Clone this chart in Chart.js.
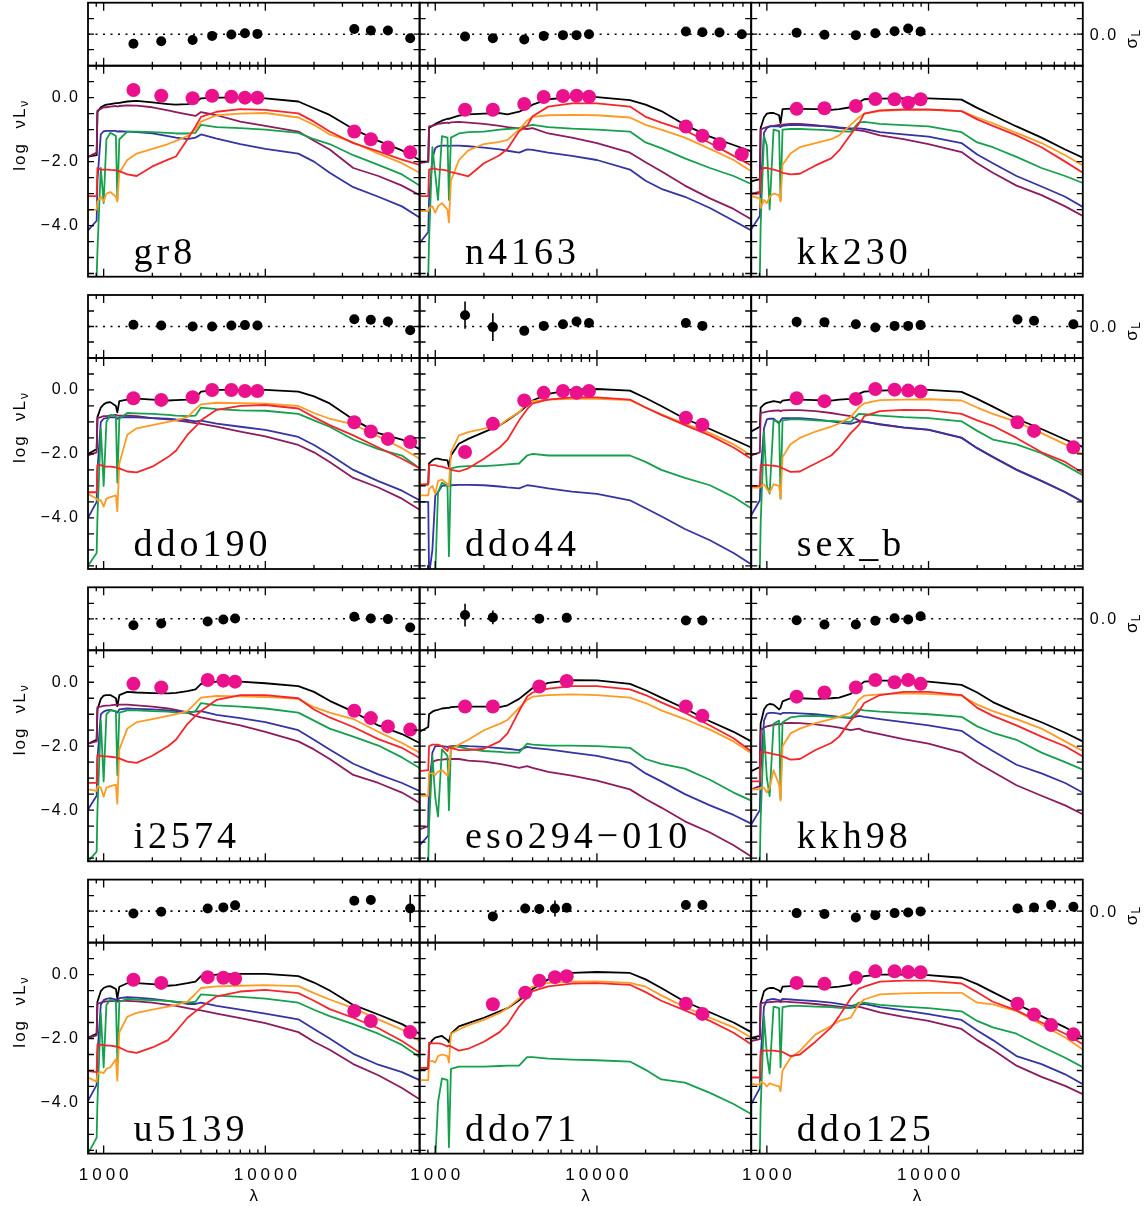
<!DOCTYPE html>
<html>
<head>
<meta charset="utf-8">
<script src="https://cdn.jsdelivr.net/npm/chart.js@4.4.1/dist/chart.umd.min.js"></script>
<style>
html, body { margin: 0; padding: 0; background: #fff; overflow: hidden; width: 1148px; height: 1206px; }
canvas { position: absolute; }
</style>
</head>
<body>
<script>
// model wavelength grid (Angstrom)
const lam = [800, 905, 915, 960, 1000, 1040, 1100, 1190, 1215, 1250,
             1400, 1600, 2000, 2500, 2800, 3300, 3700, 4000, 5000, 7000,
             10000, 16000, 20000, 25000, 35000, 50000, 70000, 90000];

// filter wavelengths
const FUV = 1528, NUV = 2271;
const u_ = 3551, g_ = 4686, r_ = 6165, i_ = 7481, z_ = 8931;
const U_ = 3600, B_ = 4400, V_ = 5500, R_ = 6500;
const I1 = 35500, I2 = 44930, I3 = 57310, I4 = 78720;

// ---- gr8
const gr8_band = [FUV, NUV, u_, g_, r_, i_, z_, I1, I2, I3, I4];
const gr8_obs = [0.24, 0.06, -0.02, 0.06, 0.03, 0.0, 0.0, -1.06, -1.30, -1.56, -1.71];
const gr8_res = [-0.62, -0.45, -0.37, -0.11, -0.02, 0.06, 0.02, 0.34, 0.24, 0.24, -0.26];
const gr8_black = [-1.84,-1.80,-0.45,-0.30,-0.25,-0.22,-0.20,-0.17,-0.17,-0.16, -0.12,-0.10,-0.15,-0.20,-0.22,-0.20,-0.15,-0.02,0.00,0.00, -0.02,-0.12,-0.33,-0.54,-0.98,-1.35,-1.65,-1.95];
const gr8_purple = [-1.85,-1.72,-0.40,-0.35,-0.30,-0.30,-0.28,-0.26,-0.28,-0.26, -0.24,-0.25,-0.30,-0.40,-0.45,-0.52,-0.57,-0.45,-0.55,-0.75, -0.88,-1.06,-1.35,-1.62,-2.20,-2.45,-2.75,-3.05];
const gr8_blue = [-4.15,-3.85,-2.60,-1.15,-1.05,-1.04,-1.04,-1.04,-1.06,-1.05, -1.06,-1.08,-1.12,-1.20,-1.25,-1.30,-1.25,-1.15,-1.28,-1.45, -1.60,-1.75,-2.00,-2.35,-2.80,-3.10,-3.40,-3.75];
const gr8_green = [-6.00,-5.60,-4.80,-2.20,-3.30,-1.30,-1.10,-1.20,-3.20,-1.30, -1.06,-1.06,-1.08,-1.10,-1.12,-1.12,-1.10,-0.85,-0.92,-0.95, -1.00,-1.10,-1.30,-1.45,-1.80,-2.10,-2.40,-2.75];
const gr8_orange = [-3.52,-3.50,-3.25,-3.10,-3.25,-3.00,-2.95,-3.10,-3.25,-2.35, -1.95,-1.75,-1.60,-1.45,-1.35,-1.20,-1.00,-0.75,-0.55,-0.50, -0.48,-0.62,-0.85,-1.15,-1.40,-1.75,-2.05,-2.35];
const gr8_red = [-3.08,-3.08,-2.20,-2.25,-2.25,-2.25,-2.26,-2.27,-2.28,-2.30, -2.40,-2.45,-2.15,-1.94,-1.84,-1.30,-0.90,-0.60,-0.44,-0.36, -0.38,-0.49,-0.75,-1.06,-1.42,-1.68,-1.94,-2.10];

// ---- n4163
const n4163_band = [FUV, NUV, u_, g_, r_, i_, z_, I1, I2, I3, I4];
const n4163_obs = [-0.38, -0.38, -0.20, 0.02, 0.05, 0.06, 0.03, -0.90, -1.19, -1.45, -1.77];
const n4163_res = [-0.15, -0.26, -0.34, -0.11, -0.06, -0.06, 0.0, 0.17, 0.13, 0.11, 0.0];
const n4163_black = [-2.00,-2.00,-0.95,-0.88,-0.82,-0.78,-0.72,-0.66,-0.66,-0.64, -0.56,-0.52,-0.50,-0.48,-0.52,-0.44,-0.32,-0.22,-0.05,0.02, 0.02,-0.08,-0.22,-0.42,-0.85,-1.22,-1.48,-1.68];
const n4163_purple = [-2.05,-2.00,-0.90,-0.88,-0.85,-0.82,-0.80,-0.78,-0.80,-0.77, -0.76,-0.78,-0.82,-0.88,-0.92,-0.96,-0.98,-0.95,-1.12,-1.25, -1.42,-1.72,-2.02,-2.30,-2.75,-3.15,-3.48,-3.80];
const n4163_blue = [-4.55,-4.20,-3.20,-1.90,-1.58,-1.52,-1.50,-1.50,-1.52,-1.50, -1.50,-1.52,-1.56,-1.62,-1.66,-1.72,-1.62,-1.63,-1.72,-1.82, -1.95,-2.25,-2.60,-2.85,-3.10,-3.45,-3.85,-4.15];
const n4163_green = [-6.00,-5.60,-4.50,-1.55,-2.40,-3.20,-1.20,-1.25,-3.20,-1.25, -1.12,-1.08,-1.06,-1.00,-0.98,-0.95,-0.88,-0.85,-0.92,-0.97, -1.00,-1.06,-1.40,-1.58,-1.90,-2.20,-2.45,-2.70];
const n4163_orange = [-3.55,-3.55,-3.45,-3.40,-3.60,-3.40,-3.30,-3.50,-3.90,-2.60, -1.95,-1.65,-1.45,-1.38,-1.32,-1.00,-0.72,-0.60,-0.55,-0.54, -0.55,-0.62,-0.85,-1.00,-1.25,-1.60,-1.95,-2.30];
const n4163_red = [-3.08,-3.08,-2.25,-2.22,-2.22,-2.25,-2.25,-2.28,-2.32,-2.33, -2.38,-2.46,-2.05,-1.80,-1.60,-1.05,-0.88,-0.58,-0.28,-0.18, -0.18,-0.28,-0.60,-0.78,-1.02,-1.42,-1.82,-2.12];

// ---- kk230
const kk230_band = [FUV, NUV, u_, g_, r_, i_, z_];
const kk230_obs = [-0.35, -0.33, -0.26, -0.04, -0.05, -0.16, -0.05];
const kk230_res = [0.09, -0.04, -0.06, 0.06, 0.19, 0.37, 0.17];
const kk230_black = [-2.62,-2.55,-0.95,-0.62,-0.50,-0.48,-0.48,-0.55,-0.80,-0.36, -0.34,-0.35,-0.36,-0.38,-0.36,-0.30,-0.15,-0.05,-0.03,-0.02, -0.02,-0.06,-0.32,-0.55,-0.90,-1.25,-1.62,-1.88];
const kk230_purple = [-3.00,-2.95,-1.00,-0.95,-0.92,-0.90,-0.88,-0.85,-0.88,-0.84, -0.82,-0.82,-0.86,-0.92,-0.95,-0.98,-1.02,-1.05,-1.18,-1.30, -1.45,-1.70,-2.05,-2.35,-2.75,-3.05,-3.40,-3.70];
const kk230_blue = [-4.12,-3.70,-2.90,-1.10,-0.95,-0.90,-0.90,-0.90,-0.92,-0.88, -0.85,-0.86,-0.88,-0.90,-0.93,-0.96,-0.96,-0.98,-1.08,-1.15, -1.22,-1.42,-1.78,-2.05,-2.45,-2.78,-3.10,-3.42];
const kk230_green = [-6.00,-5.60,-4.00,-1.20,-1.50,-3.50,-1.00,-1.05,-3.20,-1.00, -0.98,-0.98,-1.00,-1.02,-1.05,-1.06,-0.78,-0.76,-0.82,-0.86, -0.90,-1.08,-1.40,-1.55,-1.85,-2.20,-2.45,-2.67];
const kk230_orange = [-3.08,-3.15,-3.45,-3.20,-3.30,-3.10,-3.00,-3.05,-3.25,-2.10, -1.75,-1.55,-1.42,-1.30,-1.18,-0.85,-0.62,-0.50,-0.42,-0.38, -0.38,-0.42,-0.62,-0.80,-1.10,-1.42,-1.80,-2.12];
const kk230_red = [-3.00,-3.00,-2.30,-2.20,-2.20,-2.22,-2.25,-2.30,-2.32,-2.35, -2.40,-2.38,-2.12,-1.90,-1.65,-1.15,-0.82,-0.50,-0.40,-0.37, -0.37,-0.42,-0.68,-0.88,-1.18,-1.55,-2.00,-2.35];

// ---- ddo190
const ddo190_band = [FUV, NUV, u_, g_, r_, i_, z_, I1, I2, I3, I4];
const ddo190_obs = [-0.26, -0.31, -0.23, 0.0, 0.0, -0.03, -0.03, -1.01, -1.30, -1.53, -1.63];
const ddo190_res = [0.11, 0.06, 0.0, 0.0, 0.06, 0.09, 0.06, 0.47, 0.43, 0.32, -0.24];
const ddo190_black = [-2.00,-1.85,-0.85,-0.55,-0.45,-0.40,-0.38,-0.50,-0.70,-0.35, -0.30,-0.27,-0.30,-0.33,-0.32,-0.30,-0.25,-0.05,0.00,0.00, 0.00,-0.05,-0.20,-0.42,-0.92,-1.35,-1.55,-1.85];
const ddo190_purple = [-2.05,-1.95,-0.88,-0.85,-0.82,-0.82,-0.80,-0.78,-0.80,-0.80, -0.80,-0.82,-0.88,-0.92,-0.95,-1.00,-1.04,-1.06,-1.15,-1.30, -1.45,-1.72,-1.95,-2.25,-2.75,-3.05,-3.40,-3.75];
const ddo190_blue = [-4.00,-3.50,-2.50,-1.00,-0.90,-0.88,-0.86,-0.86,-0.90,-0.86, -0.85,-0.86,-0.88,-0.90,-0.92,-0.94,-0.98,-0.96,-1.05,-1.15, -1.25,-1.47,-1.72,-2.02,-2.50,-2.85,-3.15,-3.45];
const ddo190_green = [-5.50,-5.10,-4.00,-1.20,-3.00,-1.00,-0.78,-0.82,-2.90,-0.90, -0.72,-0.73,-0.75,-0.78,-0.80,-0.82,-0.80,-0.55,-0.60,-0.64, -0.65,-0.75,-0.95,-1.15,-1.55,-1.85,-2.05,-2.45];
const ddo190_orange = [-3.25,-3.40,-3.45,-3.45,-3.65,-3.40,-3.35,-3.30,-3.80,-2.30, -1.40,-1.20,-1.10,-1.00,-0.95,-0.85,-0.60,-0.45,-0.40,-0.41, -0.43,-0.50,-0.72,-0.90,-1.08,-1.45,-1.82,-2.15];
const ddo190_red = [-3.20,-3.20,-2.35,-2.35,-2.38,-2.40,-2.40,-2.42,-2.45,-2.45, -2.55,-2.58,-2.40,-2.10,-1.90,-1.40,-1.15,-0.95,-0.62,-0.50, -0.47,-0.58,-0.85,-1.10,-1.42,-1.80,-2.15,-2.45];

// ---- ddo44
const ddo44_band = [FUV, NUV, u_, g_, r_, i_, z_, I1, I2];
const ddo44_obs = [-1.94, -1.06, -0.33, -0.09, -0.03, -0.09, -0.03, -0.87, -1.09];
const ddo44_res = [0.73, -0.04, -0.28, 0.04, 0.15, 0.32, 0.22, 0.22, 0.04];
const ddo44_err = [0.88, 0.90, 0, 0, 0, 0, 0, 0, 0];
const ddo44_black = [-2.98,-2.95,-2.30,-2.20,-2.15,-2.15,-2.18,-2.20,-2.40,-2.05, -1.68,-1.53,-1.32,-1.11,-0.95,-0.70,-0.49,-0.33,-0.12,0.01, 0.03,-0.02,-0.25,-0.50,-0.90,-1.22,-1.55,-1.80];
const ddo44_blue = [-3.50,-3.50,-5.80,-5.00,-3.30,-3.20,-3.00,-2.98,-3.00,-2.98, -2.97,-2.97,-2.98,-3.02,-3.05,-3.08,-2.98,-3.00,-3.08,-3.18, -3.25,-3.45,-3.70,-3.95,-4.35,-4.70,-5.10,-5.45];
const ddo44_green = [-6.00,-6.00,-5.80,-5.80,-5.80,-3.20,-2.90,-3.00,-5.20,-2.45, -2.40,-2.38,-2.38,-2.35,-2.33,-2.30,-2.05,-2.00,-2.05,-2.05, -2.05,-2.05,-2.25,-2.50,-2.75,-2.98,-3.35,-3.70];
const ddo44_orange = [-3.30,-3.30,-3.10,-3.00,-3.25,-2.85,-2.80,-2.95,-3.00,-1.95, -1.42,-1.32,-1.21,-1.11,-0.92,-0.70,-0.40,-0.35,-0.30,-0.28, -0.28,-0.32,-0.55,-0.76,-1.05,-1.35,-1.70,-2.05];
const ddo44_red = [-2.95,-2.95,-2.35,-2.35,-2.35,-2.38,-2.40,-2.45,-2.45,-2.50, -2.55,-2.45,-2.15,-1.80,-1.55,-0.95,-0.60,-0.42,-0.30,-0.23, -0.23,-0.30,-0.55,-0.78,-1.10,-1.42,-1.80,-2.15];

// ---- sex_b
const sexb_band = [FUV, NUV, u_, g_, r_, i_, z_, I1, I2, I4];
const sexb_obs = [-0.26, -0.35, -0.28, 0.03, 0.01, -0.02, -0.05, -1.01, -1.28, -1.79];
const sexb_res = [0.30, 0.28, 0.15, -0.06, 0.04, 0.04, 0.09, 0.45, 0.37, 0.15];
const sexb_black = [-1.30,-1.15,-0.55,-0.45,-0.40,-0.38,-0.35,-0.38,-0.40,-0.33, -0.30,-0.30,-0.32,-0.33,-0.30,-0.28,-0.12,-0.05,-0.02,0.00, 0.00,-0.06,-0.28,-0.52,-0.90,-1.22,-1.55,-1.78];
const sexb_purple = [-2.05,-1.95,-0.72,-0.70,-0.68,-0.66,-0.65,-0.64,-0.66,-0.64, -0.63,-0.63,-0.66,-0.72,-0.76,-0.82,-0.95,-0.98,-1.08,-1.18, -1.25,-1.50,-1.82,-2.10,-2.50,-2.85,-3.20,-3.50];
const sexb_blue = [-3.92,-3.45,-2.60,-1.20,-0.92,-0.90,-0.90,-1.05,-0.95,-0.88, -0.88,-0.88,-0.92,-0.98,-1.02,-1.06,-0.98,-1.00,-1.07,-1.17, -1.24,-1.49,-1.82,-2.09,-2.49,-2.84,-3.19,-3.49];
const sexb_green = [-6.00,-5.60,-4.20,-1.30,-3.00,-3.24,-0.95,-1.00,-3.40,-0.95, -0.92,-0.92,-0.95,-0.97,-0.98,-1.00,-0.75,-0.76,-0.80,-0.85, -0.88,-0.98,-1.28,-1.55,-1.70,-1.98,-2.35,-2.67];
const sexb_orange = [-3.05,-3.05,-3.00,-2.95,-3.10,-3.20,-2.95,-3.00,-3.40,-2.10, -1.70,-1.50,-1.30,-1.15,-1.05,-0.85,-0.55,-0.42,-0.32,-0.30, -0.29,-0.33,-0.55,-0.75,-1.00,-1.35,-1.70,-2.02];
const sexb_red = [-3.00,-3.00,-2.36,-2.35,-2.35,-2.36,-2.37,-2.40,-2.42,-2.45, -2.56,-2.55,-2.30,-2.05,-1.80,-1.35,-1.10,-0.82,-0.66,-0.62, -0.63,-0.75,-0.95,-1.12,-1.50,-1.95,-2.25,-2.60];

// ---- i2574
const i2574_band = [FUV, NUV, B_, V_, R_, I1, I2, I3, I4];
const i2574_obs = [-0.05, -0.16, 0.07, 0.05, 0.02, -0.89, -1.12, -1.38, -1.48];
const i2574_res = [-0.41, -0.30, -0.17, -0.04, 0.02, 0.13, 0.02, -0.02, -0.56];
const i2574_black = [-1.92,-1.80,-0.85,-0.52,-0.42,-0.40,-0.40,-0.50,-0.75,-0.40, -0.30,-0.32,-0.34,-0.35,-0.33,-0.28,-0.22,-0.05,0.02,0.02, -0.03,-0.12,-0.30,-0.58,-0.92,-1.35,-1.62,-1.90];
const i2574_purple = [-1.92,-1.85,-0.78,-0.76,-0.74,-0.73,-0.72,-0.70,-0.72,-0.70, -0.70,-0.72,-0.76,-0.82,-0.86,-0.95,-1.05,-1.10,-1.20,-1.35, -1.55,-1.85,-2.10,-2.40,-2.90,-3.15,-3.45,-3.77];
const i2574_blue = [-3.98,-3.55,-2.40,-1.00,-0.92,-0.88,-0.86,-0.92,-0.95,-0.85, -0.82,-0.83,-0.85,-0.88,-0.90,-0.93,-0.92,-0.90,-1.02,-1.12, -1.25,-1.50,-1.80,-2.10,-2.55,-2.88,-3.15,-3.40];
const i2574_green = [-5.60,-5.30,-4.00,-1.20,-3.10,-1.00,-0.88,-0.90,-2.90,-0.95, -0.88,-0.88,-0.90,-0.92,-0.95,-0.96,-0.90,-0.65,-0.72,-0.76, -0.82,-0.95,-1.20,-1.45,-1.70,-1.98,-2.35,-2.68];
const i2574_orange = [-3.35,-3.40,-3.25,-3.30,-3.58,-3.30,-3.25,-3.20,-3.80,-2.10, -1.45,-1.25,-1.15,-1.05,-1.00,-0.90,-0.65,-0.48,-0.43,-0.44, -0.46,-0.52,-0.78,-0.95,-1.15,-1.55,-1.90,-2.20];
const i2574_red = [-3.15,-3.15,-2.28,-2.30,-2.32,-2.32,-2.33,-2.35,-2.38,-2.38, -2.48,-2.52,-2.30,-2.00,-1.80,-1.30,-1.05,-0.90,-0.55,-0.40, -0.40,-0.50,-0.85,-1.10,-1.40,-1.78,-2.05,-2.37];

// ---- eso294-010
const eso294_band = [FUV, NUV, B_, R_, I1, I2];
const eso294_obs = [-0.76, -0.76, -0.13, 0.04, -0.76, -1.05];
const eso294_res = [0.24, 0.09, 0.0, 0.06, -0.11, -0.11];
const eso294_err = [0.73, 0.44, 0, 0, 0, 0];
const eso294_black = [-1.55,-1.40,-1.00,-0.92,-0.88,-0.86,-0.82,-0.80,-0.80,-0.78, -0.76,-0.76,-0.76,-0.78,-0.72,-0.52,-0.32,-0.18,-0.02,0.07, 0.06,-0.05,-0.25,-0.48,-0.82,-1.22,-1.55,-1.85];
const eso294_purple = [-4.60,-4.50,-3.00,-2.50,-2.45,-2.43,-2.42,-2.40,-2.42,-2.40, -2.40,-2.45,-2.48,-2.55,-2.60,-2.68,-2.62,-2.68,-2.80,-2.92, -3.08,-3.35,-3.65,-3.92,-4.35,-4.70,-5.10,-5.45];
const eso294_blue = [-5.10,-4.80,-3.50,-2.20,-2.00,-2.00,-2.00,-2.02,-2.05,-2.00, -1.98,-2.00,-2.02,-2.06,-2.08,-2.12,-2.02,-2.05,-2.10,-2.20, -2.30,-2.52,-2.85,-3.10,-3.50,-3.85,-4.15,-4.42];
const eso294_green = [-6.00,-5.60,-4.50,-2.30,-3.60,-4.20,-2.10,-2.30,-4.00,-2.00, -2.02,-2.08,-2.15,-2.18,-2.20,-2.20,-1.92,-1.95,-1.98,-1.98, -2.00,-2.05,-2.40,-2.55,-2.70,-3.05,-3.45,-3.70];
const eso294_orange = [-3.55,-3.55,-2.85,-2.85,-2.90,-2.80,-2.75,-2.92,-2.65,-2.10, -1.95,-1.80,-1.50,-1.30,-1.18,-0.80,-0.55,-0.45,-0.40,-0.38, -0.40,-0.48,-0.65,-0.88,-1.15,-1.48,-1.85,-2.21];
const eso294_red = [-2.78,-2.75,-2.00,-1.95,-1.95,-1.95,-2.00,-2.15,-2.00,-2.05, -2.12,-2.12,-2.08,-1.85,-1.60,-0.90,-0.45,-0.32,-0.20,-0.12, -0.12,-0.22,-0.40,-0.63,-0.95,-1.35,-1.75,-2.16];

// ---- kkh98
const kkh98_band = [FUV, NUV, u_, g_, r_, i_, z_];
const kkh98_obs = [-0.45, -0.32, -0.16, 0.07, 0.0, 0.07, -0.05];
const kkh98_res = [-0.09, -0.37, -0.37, -0.13, 0.04, -0.04, 0.17];
const kkh98_black = [-2.78,-2.65,-1.30,-0.85,-0.72,-0.68,-0.70,-0.85,-0.80,-0.60, -0.50,-0.50,-0.52,-0.50,-0.48,-0.36,-0.12,0.02,0.05,0.05, 0.02,-0.08,-0.32,-0.62,-0.95,-1.25,-1.58,-1.85];
const kkh98_purple = [-3.35,-3.25,-1.50,-1.42,-1.38,-1.36,-1.33,-1.30,-1.32,-1.28, -1.27,-1.28,-1.32,-1.38,-1.42,-1.50,-1.45,-1.52,-1.62,-1.78, -1.92,-2.20,-2.52,-2.80,-3.22,-3.55,-3.85,-4.13];
const kkh98_blue = [-4.45,-4.00,-2.80,-1.20,-0.98,-0.96,-0.96,-0.98,-1.00,-0.96, -0.96,-0.97,-1.00,-1.05,-1.08,-1.12,-1.05,-1.08,-1.15,-1.25, -1.35,-1.52,-1.85,-2.15,-2.58,-2.85,-3.15,-3.45];
const kkh98_green = [-6.00,-5.60,-4.30,-1.50,-3.00,-3.56,-1.30,-1.20,-3.65,-1.25, -1.10,-1.06,-1.05,-1.08,-1.10,-1.10,-0.85,-0.88,-0.92,-0.96, -1.00,-1.08,-1.38,-1.58,-1.80,-2.20,-2.50,-2.73];
const kkh98_orange = [-3.35,-3.35,-3.30,-3.30,-3.45,-3.30,-2.75,-3.20,-3.70,-2.00, -1.60,-1.45,-1.28,-1.15,-1.08,-0.95,-0.55,-0.42,-0.38,-0.35, -0.36,-0.42,-0.70,-0.90,-1.15,-1.45,-1.85,-2.15];
const kkh98_red = [-3.10,-3.10,-2.18,-2.18,-2.20,-2.22,-2.25,-2.28,-2.30,-2.32, -2.42,-2.40,-2.12,-1.90,-1.70,-1.20,-0.92,-0.65,-0.40,-0.30, -0.30,-0.40,-0.80,-1.05,-1.35,-1.70,-2.00,-2.32];

// ---- u5139
const u5139_band = [FUV, NUV, B_, V_, R_, I1, I2, I4];
const u5139_obs = [-0.16, -0.26, -0.08, -0.10, -0.13, -1.14, -1.45, -1.80];
const u5139_res = [-0.15, -0.04, 0.17, 0.24, 0.37, 0.67, 0.71, 0.17];
const u5139_err = [0, 0, 0, 0, 0, 0, 0, 0.88];
const u5139_black = [-1.98,-1.85,-0.85,-0.52,-0.42,-0.38,-0.36,-0.45,-0.75,-0.38, -0.27,-0.27,-0.30,-0.35,-0.33,-0.27,-0.22,-0.05,0.00,0.02, 0.02,-0.05,-0.25,-0.50,-0.95,-1.25,-1.55,-1.85];
const u5139_purple = [-1.98,-1.90,-0.92,-0.88,-0.85,-0.84,-0.83,-0.82,-0.85,-0.82, -0.82,-0.84,-0.88,-0.95,-0.98,-1.05,-1.10,-1.12,-1.22,-1.36, -1.52,-1.80,-2.10,-2.35,-2.80,-3.15,-3.55,-3.90];
const u5139_blue = [-3.95,-3.45,-2.50,-0.95,-0.80,-0.76,-0.74,-0.78,-0.82,-0.74, -0.71,-0.72,-0.76,-0.82,-0.86,-0.92,-0.92,-0.88,-0.98,-1.10, -1.22,-1.40,-1.70,-2.00,-2.48,-2.82,-3.05,-3.30];
const u5139_green = [-5.60,-5.10,-4.00,-1.20,-2.90,-0.95,-0.78,-0.85,-2.70,-0.85, -0.76,-0.78,-0.80,-0.82,-0.85,-0.88,-0.85,-0.62,-0.66,-0.70, -0.75,-0.88,-1.10,-1.30,-1.55,-1.85,-2.20,-2.58];
const u5139_orange = [-3.22,-3.35,-3.10,-3.05,-3.08,-2.95,-2.90,-2.65,-3.32,-1.80, -1.32,-1.20,-1.10,-1.00,-0.95,-0.85,-0.60,-0.42,-0.37,-0.35, -0.33,-0.36,-0.58,-0.78,-1.05,-1.40,-1.72,-2.08];
const u5139_red = [-3.02,-3.05,-2.18,-2.20,-2.20,-2.22,-2.22,-2.25,-2.25,-2.28, -2.40,-2.45,-2.28,-2.05,-1.78,-1.35,-1.15,-1.02,-0.68,-0.53, -0.48,-0.58,-0.82,-1.08,-1.35,-1.68,-2.08,-2.44];

// ---- ddo71
const ddo71_band = [NUV, U_, B_, V_, R_, I1, I2];
const ddo71_obs = [-0.93, -0.57, -0.19, -0.08, -0.05, -0.91, -1.23];
const ddo71_res = [-0.34, 0.17, 0.13, 0.17, 0.22, 0.39, 0.39];
const ddo71_err = [0, 0.30, 0, 0.52, 0.25, 0, 0];
const ddo71_black = [-2.98,-2.95,-2.20,-2.05,-1.97,-1.95,-1.92,-2.05,-2.12,-1.85, -1.62,-1.52,-1.35,-1.15,-1.05,-0.80,-0.62,-0.45,-0.15,0.05, 0.08,0.05,-0.15,-0.42,-0.85,-1.18,-1.50,-1.80];
const ddo71_green = [-6.00,-6.00,-6.00,-5.80,-5.80,-4.00,-3.25,-3.30,-5.40,-2.95, -2.88,-2.88,-2.88,-2.86,-2.85,-2.85,-2.58,-2.58,-2.63,-2.66, -2.68,-2.72,-2.98,-3.28,-3.38,-3.70,-4.05,-4.36];
const ddo71_orange = [-3.30,-3.30,-2.72,-2.70,-2.75,-2.55,-2.50,-2.55,-2.75,-1.85, -1.72,-1.58,-1.42,-1.20,-1.05,-0.75,-0.48,-0.38,-0.26,-0.22, -0.21,-0.26,-0.38,-0.65,-1.02,-1.35,-1.65,-1.97];
const ddo71_red = [-2.92,-2.92,-2.13,-2.15,-2.15,-2.15,-2.17,-2.25,-2.22,-2.25, -2.38,-2.32,-2.10,-1.80,-1.55,-1.00,-0.72,-0.52,-0.37,-0.28, -0.27,-0.32,-0.55,-0.82,-1.12,-1.45,-1.82,-2.18];

// ---- ddo125
const ddo125_band = [FUV, NUV, u_, g_, r_, i_, z_, I1, I2, I3, I4];
const ddo125_obs = [-0.26, -0.29, -0.10, 0.10, 0.10, 0.08, 0.07, -0.91, -1.25, -1.58, -1.87];
const ddo125_res = [-0.13, -0.19, -0.41, -0.26, -0.13, -0.09, -0.02, 0.17, 0.24, 0.39, 0.28];
const ddo125_black = [-1.98,-1.92,-0.90,-0.52,-0.45,-0.42,-0.42,-0.50,-0.55,-0.38, -0.36,-0.36,-0.38,-0.40,-0.38,-0.32,-0.12,-0.05,0.00,0.00, -0.02,-0.10,-0.30,-0.55,-0.92,-1.30,-1.65,-1.97];
const ddo125_purple = [-2.08,-2.02,-0.90,-0.88,-0.87,-0.86,-0.85,-0.84,-0.86,-0.84, -0.86,-0.88,-0.92,-0.97,-1.00,-1.04,-1.00,-1.05,-1.18,-1.32, -1.45,-1.70,-2.05,-2.35,-2.85,-3.20,-3.48,-3.74];
const ddo125_blue = [-4.05,-3.55,-2.60,-1.00,-0.80,-0.78,-0.76,-0.80,-0.82,-0.76, -0.78,-0.80,-0.83,-0.88,-0.92,-0.98,-0.94,-0.92,-1.02,-1.12, -1.24,-1.42,-1.75,-2.05,-2.55,-2.80,-3.12,-3.43];
const ddo125_green = [-6.00,-5.60,-4.20,-1.30,-2.50,-3.10,-1.00,-1.05,-2.90,-1.02, -0.98,-0.98,-1.00,-1.02,-1.04,-1.05,-0.88,-0.88,-0.95,-1.00, -1.05,-1.15,-1.45,-1.65,-1.85,-2.25,-2.60,-2.90];
const ddo125_orange = [-3.42,-3.45,-3.35,-3.40,-3.50,-3.40,-3.45,-3.50,-3.65,-3.00, -2.60,-2.39,-1.87,-1.61,-1.45,-1.35,-0.93,-0.78,-0.62,-0.59, -0.57,-0.57,-0.88,-0.93,-1.14,-1.56,-1.97,-2.34];
const ddo125_red = [-3.22,-3.22,-2.40,-2.38,-2.38,-2.38,-2.38,-2.40,-2.42,-2.42, -2.55,-2.50,-2.10,-1.65,-1.30,-0.75,-0.45,-0.38,-0.22,-0.19, -0.19,-0.28,-0.55,-0.85,-1.12,-1.50,-1.85,-2.18];

// panel table, row by row: name, bands, fluxes, residuals, errors, [black, purple, blue, green, orange, red]
const panels = [
  ['gr8', gr8_band, gr8_obs, gr8_res, [], [gr8_black, gr8_purple, gr8_blue, gr8_green, gr8_orange, gr8_red]],
  ['n4163', n4163_band, n4163_obs, n4163_res, [], [n4163_black, n4163_purple, n4163_blue, n4163_green, n4163_orange, n4163_red]],
  ['kk230', kk230_band, kk230_obs, kk230_res, [], [kk230_black, kk230_purple, kk230_blue, kk230_green, kk230_orange, kk230_red]],
  ['ddo190', ddo190_band, ddo190_obs, ddo190_res, [], [ddo190_black, ddo190_purple, ddo190_blue, ddo190_green, ddo190_orange, ddo190_red]],
  ['ddo44', ddo44_band, ddo44_obs, ddo44_res, ddo44_err, [ddo44_black, [], ddo44_blue, ddo44_green, ddo44_orange, ddo44_red]],
  ['sex_b', sexb_band, sexb_obs, sexb_res, [], [sexb_black, sexb_purple, sexb_blue, sexb_green, sexb_orange, sexb_red]],
  ['i2574', i2574_band, i2574_obs, i2574_res, [], [i2574_black, i2574_purple, i2574_blue, i2574_green, i2574_orange, i2574_red]],
  ['eso294\u2212010', eso294_band, eso294_obs, eso294_res, eso294_err, [eso294_black, eso294_purple, eso294_blue, eso294_green, eso294_orange, eso294_red]],
  ['kkh98', kkh98_band, kkh98_obs, kkh98_res, [], [kkh98_black, kkh98_purple, kkh98_blue, kkh98_green, kkh98_orange, kkh98_red]],
  ['u5139', u5139_band, u5139_obs, u5139_res, u5139_err, [u5139_black, u5139_purple, u5139_blue, u5139_green, u5139_orange, u5139_red]],
  ['ddo71', ddo71_band, ddo71_obs, ddo71_res, ddo71_err, [ddo71_black, [], [], ddo71_green, ddo71_orange, ddo71_red]],
  ['ddo125', ddo125_band, ddo125_obs, ddo125_res, [], [ddo125_black, ddo125_purple, ddo125_blue, ddo125_green, ddo125_orange, ddo125_red]]
];

const lineColors = ['#000000', '#8e1b5e', '#3434a2', '#14a04c', '#ff9b24', '#f5262a'];
const MAGENTA = '#eb118d';

// layout (page pixels)
const X0 = 88, COLW = 331.6, ROW0 = 65.7, ROWH = 292.3, RESH = 63, MAINH = 211;
const PAD = {l: 90, r: 70, t: 24, b: 60};
const xMajor = [1000, 10000];
const xMinor = [900, 2000, 3000, 4000, 5000, 6000, 7000, 8000, 9000, 20000, 30000, 40000, 50000, 60000, 70000, 80000];
const mainTicks = [-5.5, -5, -4.5, -4, -3.5, -3, -2.5, -2, -1.5, -1, -0.5, 0, 0.5];
const resTicks = [-1, 0, 1];
const SANS = '"Liberation Sans", "DejaVu Sans", sans-serif';

function txt(ctx, s, x, y, font, align, spacing) {
  ctx.font = font;
  ctx.letterSpacing = spacing || '0px';
  ctx.textAlign = align;
  ctx.textBaseline = 'middle';
  ctx.fillText(s, x, y);
}

function framePlugin(yTicks, deco) {
  return {
    id: 'frame',
    afterDatasetsDraw(chart) {
      const ctx = chart.ctx, a = chart.chartArea;
      const sx = chart.scales.x, sy = chart.scales.y;
      ctx.save();
      ctx.strokeStyle = '#000';
      ctx.fillStyle = '#000';
      ctx.lineWidth = 1.3;
      ctx.beginPath();
      xMajor.concat(xMinor).forEach(v => {
        const p = sx.getPixelForValue(v);
        const len = xMajor.includes(v) ? 8 : 4;
        ctx.moveTo(p, a.bottom); ctx.lineTo(p, a.bottom - len);
        ctx.moveTo(p, a.top); ctx.lineTo(p, a.top + len);
      });
      yTicks.forEach(v => {
        const p = sy.getPixelForValue(v);
        ctx.moveTo(a.left, p); ctx.lineTo(a.left + 6, p);
        ctx.moveTo(a.right, p); ctx.lineTo(a.right - 6, p);
      });
      ctx.stroke();
      ctx.lineWidth = 1.8;
      ctx.strokeRect(a.left, a.top, a.right - a.left, a.bottom - a.top);

      if (deco.yLabels) {
        [[0, '0.0'], [-2, '\u22122.0'], [-4, '\u22124.0']].forEach(([v, s]) => {
          txt(ctx, s, a.left - 8, sy.getPixelForValue(v), '16px ' + SANS, 'right', '2px');
        });
        ctx.save();
        ctx.translate(a.left - 68, a.top + 69);
        ctx.rotate(-Math.PI / 2);
        ctx.font = '17px ' + SANS; ctx.letterSpacing = '2px';
        const w1 = ctx.measureText('log  \u03bdL').width;
        ctx.font = '12px ' + SANS;
        const w2 = ctx.measureText('\u03bd').width;
        const x0 = -(w1 + w2) / 2;
        txt(ctx, 'log  \u03bdL', x0, 0, '17px ' + SANS, 'left', '2px');
        txt(ctx, '\u03bd', x0 + w1, 5, '12px ' + SANS, 'left', '0px');
        ctx.restore();
      }
      if (deco.rightLabel) {
        const p0 = sy.getPixelForValue(0);
        txt(ctx, '0.0', a.right + 7, p0 + 1, '16px ' + SANS, 'left', '2px');
        ctx.save();
        ctx.translate(a.right + 50, p0 + 5);
        ctx.rotate(-Math.PI / 2);
        txt(ctx, '\u03c3', -4, 0, '17px ' + SANS, 'center', '0px');
        txt(ctx, 'L', 6, 4, '12px ' + SANS, 'center', '0px');
        ctx.restore();
      }
      if (deco.xLabels) {
        xMajor.forEach(v => {
          txt(ctx, String(v), sx.getPixelForValue(v) + 2, a.bottom + 22, '17px ' + SANS, 'center', '4px');
        });
        txt(ctx, '\u03bb', (a.left + a.right) / 2, a.bottom + 43, '17px ' + SANS, 'center', '0px');
      }
      if (deco.name) {
        ctx.font = '38px "Liberation Serif", "DejaVu Serif", serif';
        ctx.letterSpacing = '4px';
        ctx.textAlign = 'left';
        ctx.textBaseline = 'alphabetic';
        ctx.fillText(deco.name, a.left + 45.5, a.bottom - 13);
      }
      ctx.restore();
    }
  };
}

function addChart(left, top, w, h, datasets, yMin, yMax, yTicks, deco) {
  const cv = document.createElement('canvas');
  const cl = Math.floor(left) - PAD.l, ct = Math.floor(top) - PAD.t;
  const cw = Math.ceil(w) + PAD.l + PAD.r, ch = Math.ceil(h) + PAD.t + PAD.b;
  cv.width = cw; cv.height = ch;
  cv.style.left = cl + 'px'; cv.style.top = ct + 'px';
  cv.style.width = cw + 'px'; cv.style.height = ch + 'px';
  document.body.appendChild(cv);
  const pl = left - cl, pt = top - ct;
  return new Chart(cv, {
    type: 'scatter',
    data: {datasets: datasets},
    options: {
      responsive: false,
      animation: false,
      events: [],
      layout: {autoPadding: false, padding: {left: pl, top: pt, right: cw - pl - w, bottom: ch - pt - h}},
      plugins: {legend: {display: false}, tooltip: {enabled: false}},
      scales: {
        x: {type: 'logarithmic', min: 800, max: 90000, display: false},
        y: {type: 'linear', min: yMin, max: yMax, display: false}
      }
    },
    plugins: [framePlugin(yTicks, deco)]
  });
}

panels.forEach((p, k) => {
  const [name, band, obs, res, err, lines] = p;
  const col = k % 3, row = Math.floor(k / 3);
  const left = X0 + col * COLW;
  const bound = ROW0 + row * ROWH;

  // residual panel
  const errPts = [];
  err.forEach((e, j) => {
    if (e > 0) {
      errPts.push({x: band[j], y: res[j] - e}, {x: band[j], y: res[j] + e}, {x: band[j], y: null});
    }
  });
  const resSets = [
    {data: band.map((b, j) => ({x: b, y: res[j]})), pointRadius: 5, pointBackgroundColor: '#000',
     pointBorderWidth: 0, clip: false},
    {data: errPts, showLine: true, borderColor: '#000', borderWidth: 1.6, pointRadius: 0, spanGaps: false},
    {data: [{x: 800, y: 0}, {x: 90000, y: 0}], showLine: true, borderColor: '#000', borderWidth: 1.6,
     borderDash: [2, 5.5], pointRadius: 0}
  ];
  addChart(left, bound - RESH, COLW, RESH, resSets, -2.03, 2.03, resTicks, {rightLabel: col === 2});

  // SED panel
  const mainSets = [
    {data: band.map((b, j) => ({x: b, y: obs[j]})), pointRadius: 7, pointBackgroundColor: MAGENTA,
     pointBorderWidth: 0, clip: false}
  ];
  for (let s = 5; s >= 0; s--) {
    if (!lines[s].length) continue;
    mainSets.push({
      data: lines[s].map((v, j) => ({x: lam[j], y: v})),
      showLine: true, borderColor: lineColors[s], borderWidth: 1.8, pointRadius: 0,
      borderJoinStyle: 'round'
    });
  }
  addChart(left, bound, COLW, MAINH, mainSets, -5.6, 1.0, mainTicks,
           {yLabels: col === 0, xLabels: row === 3, name: name});
});
</script>
</body>
</html>
